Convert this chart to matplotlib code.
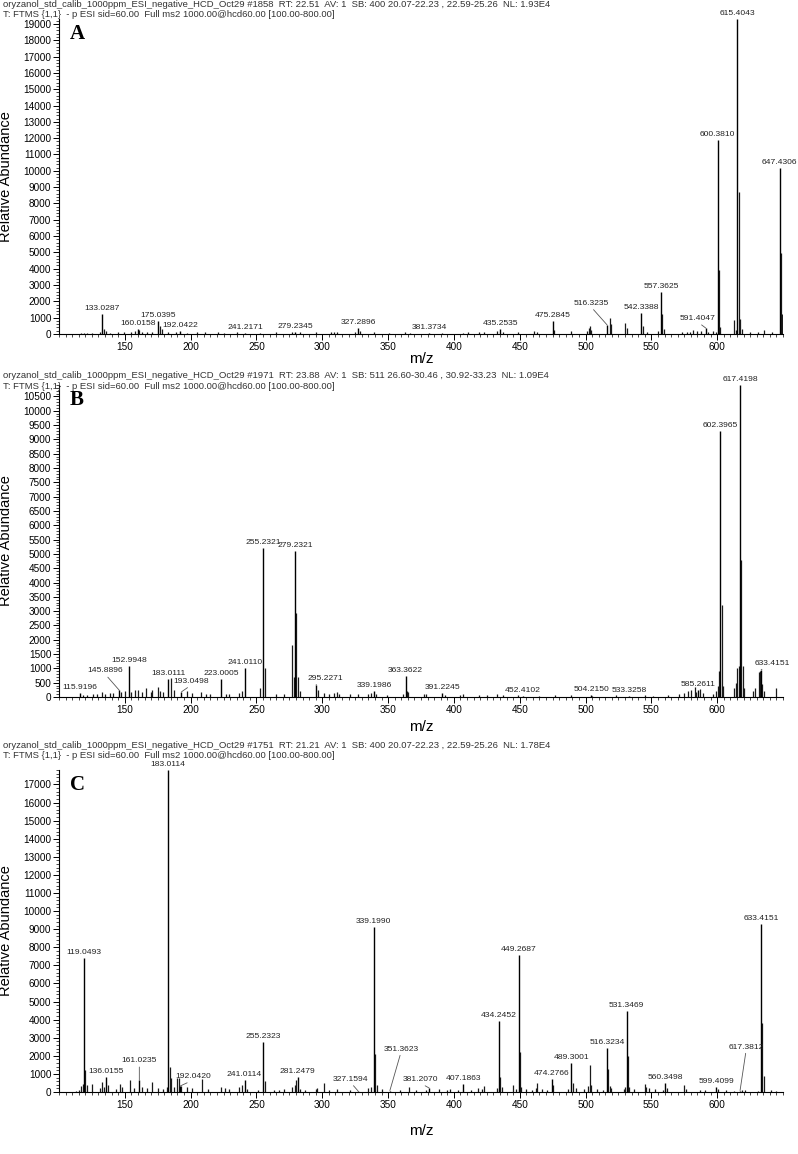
import matplotlib
matplotlib.use("Agg")
import matplotlib.pyplot as plt
from matplotlib.ticker import MultipleLocator

plt.rcParams["font.family"] = ["Liberation Sans", "DejaVu Sans"]

# ---------------- panel A ----------------
A_header = [
    "oryzanol_std_calib_1000ppm_ESI_negative_HCD_Oct29 #1858  RT: 22.51  AV: 1  SB: 400 20.07-22.23 , 22.59-25.26  NL: 1.93E4",
    "T: FTMS {1,1}  - p ESI sid=60.00  Full ms2 1000.00@hcd60.00 [100.00-800.00]",
]
A_nl = 19300
A_label_mz = [133.0287, 160.0158, 175.0395, 192.0422, 241.2171, 279.2345, 327.2896,
              381.3734, 435.2535, 475.2845, 516.3235, 542.3388, 557.3625, 591.4047,
              600.3810, 615.4043, 647.4306]
A_label_int = [1250, 330, 800, 200, 80, 130, 350, 70, 290, 780, 560, 1300, 2580, 360,
               11900, 19300, 10200]
A_minor_mz = [117.0, 119.0, 121.0, 125.0, 131.0, 134.0, 136.0, 139.0, 145.0, 149.0,
              155.0, 158.0, 161.0, 163.0, 167.0, 171.0, 177.0, 178.0, 183.0, 189.0,
              197.0, 205.0, 211.0, 221.0, 225.0, 235.0, 253.0, 265.0, 277.0, 283.0,
              295.0, 307.0, 309.0, 311.0, 325.0, 329.0, 339.0, 351.0, 363.0, 367.0,
              391.0, 407.0, 411.0, 419.0, 423.0, 433.0, 437.0, 449.0, 461.0, 463.0,
              476.3, 489.0, 501.0, 502.3, 503.3, 504.3, 518.3, 519.3, 530.3, 531.3,
              543.3, 547.0, 555.0, 558.4, 559.4, 573.0, 577.0, 579.0, 582.0, 585.0,
              588.0, 593.0, 597.0, 599.0, 601.4, 602.4, 612.8, 614.0, 616.4, 617.4,
              619.0, 625.0, 631.0, 635.4, 642.0, 648.4, 649.4]
A_minor_int = [60, 80, 70, 90, 120, 300, 200, 90, 110, 150,
               120, 200, 250, 120, 150, 130, 520, 300, 130, 150,
               90, 110, 100, 130, 80, 120, 90, 110, 150, 100,
               110, 150, 130, 110, 150, 200, 100, 90, 110, 80,
               70, 90, 120, 150, 130, 200, 140, 100, 170, 120,
               260, 160, 200, 380, 470, 250, 950, 600, 700, 350,
               460, 150, 180, 1200, 300, 110, 150, 120, 230, 160,
               200, 150, 180, 150, 3900, 450, 880, 250, 8700, 900,
               300, 120, 110, 220, 100, 4950, 1220]
A_yticks = (0, 19000, 1000, 200)
A_leaders = {"516.3235": (-16, 18), "591.4047": (-8, 6)}

# ---------------- panel B ----------------
B_header = [
    "oryzanol_std_calib_1000ppm_ESI_negative_HCD_Oct29 #1971  RT: 23.88  AV: 1  SB: 511 26.60-30.46 , 30.92-33.23  NL: 1.09E4",
    "T: FTMS {1,1}  - p ESI sid=60.00  Full ms2 1000.00@hcd60.00 [100.00-800.00]",
]
B_nl = 10900
B_label_mz = [115.9196, 145.8896, 152.9948, 183.0111, 193.0498, 223.0005, 241.0110,
              255.2321, 279.2321, 295.2271, 339.1986, 363.3622, 391.2245, 452.4102,
              504.2150, 533.3258, 585.2611, 602.3965, 617.4198, 633.4151]
B_label_int = [130, 230, 1080, 620, 180, 620, 1020, 5200, 5100, 420, 200, 750, 150, 40,
               60, 40, 230, 9300, 10900, 960]
B_minor_mz = [118, 121, 126, 129, 133, 135, 139, 141, 147, 150, 155, 158, 160, 163, 166,
              170, 171, 175, 177, 179, 185, 187, 197, 201, 208, 212, 215, 227, 229, 237,
              239, 253, 256.2, 265, 271, 277.2, 278.2, 280.2, 281.2, 283, 297, 301, 305,
              309, 311, 313, 321, 327, 335, 337, 341, 349, 361, 364.4, 365, 377, 379, 393,
              405, 407, 419, 425, 433, 437, 449, 465, 477, 489, 505, 523, 545, 551, 563,
              571, 575, 578, 580, 583, 584, 587, 589, 597, 599, 600.4, 601.4, 603.4, 604.4,
              613, 614, 615.4, 616.4, 618.4, 619.4, 620.4, 627, 629, 631.4, 632.4, 634.4,
              635.4, 645]
B_minor_int = [60, 80, 120, 90, 160, 110, 150, 130, 160, 220, 180, 260, 230, 160, 300,
               180, 230, 350, 220, 160, 650, 250, 200, 150, 160, 100, 120, 90, 110, 150,
               200, 300, 1000, 90, 100, 1800, 700, 2950, 700, 200, 250, 130, 110,
               140, 160, 120, 110, 90, 100, 130, 110, 80, 120, 220, 180, 90, 110, 80,
               70, 90, 60, 80, 90, 70, 60, 50, 80, 60, 50, 60, 60, 50, 70,
               90, 150, 200, 250, 350, 180, 280, 150, 120, 200, 400, 900, 3200, 400,
               300, 500, 1000, 1100, 4800, 1100, 300, 200, 300, 870, 920, 450,
               200, 320]
B_yticks = (0, 10500, 500, 100)
B_leaders = {"145.8896": (-14, 16), "193.0498": (10, 7), "295.2271": (9, 3),
             "633.4151": (11, 3)}

# ---------------- panel C ----------------
C_header = [
    "oryzanol_std_calib_1000ppm_ESI_negative_HCD_Oct29 #1751  RT: 21.21  AV: 1  SB: 400 20.07-22.23 , 22.59-25.26  NL: 1.78E4",
    "T: FTMS {1,1}  - p ESI sid=60.00  Full ms2 1000.00@hcd60.00 [100.00-800.00]",
]
C_nl = 17800
C_label_mz = [119.0493, 136.0155, 161.0235, 183.0114, 192.0420, 241.0114, 255.2323,
              281.2479, 327.1594, 339.1990, 351.3623, 381.2070, 407.1863, 434.2452,
              449.2687, 474.2766, 489.3001, 516.3234, 531.3469, 560.3498, 599.4099,
              617.3812, 633.4151]
C_label_int = [7400, 850, 650, 17800, 330, 650, 2750, 850, 60, 9100, 80, 220, 450, 3950,
               7600, 700, 1600, 2450, 4500, 480, 300, 80, 9300]
C_minor_mz = [113, 115, 117, 118, 120, 121, 125, 131, 133, 134, 137, 143, 146, 148, 154,
              157, 163, 167, 171, 175, 179, 182, 184, 185, 187, 190, 191, 193, 197, 201,
              209, 213, 223, 226, 229, 237, 239, 243, 251, 256.2, 263, 267, 271, 277, 279,
              280, 283, 287, 295, 296, 301, 305, 311, 321, 335, 337, 340.2, 341.2, 345,
              359, 366, 371, 379, 389, 395, 397, 403, 413, 418, 421, 423, 433, 435.2,
              436.2, 445, 447, 450.3, 451.3, 455, 459, 462, 463, 467, 471, 475.3, 487,
              490.3, 493, 499, 502, 503.3, 504.3, 509, 513, 517.3, 518.3, 519, 529, 530.3,
              532.3, 533.3, 537, 545, 546, 548, 553, 559, 562, 575, 576, 587, 591, 601,
              607, 613, 619, 621, 631, 634.4, 635.4, 641, 645]
C_minor_int = [80, 120, 350, 450, 1200, 400, 450, 200, 550, 300, 400, 150, 450, 300, 650,
               200, 250, 200, 550, 200, 150, 300, 1400, 750, 300, 750, 800, 350, 300, 200,
               700, 150, 250, 200, 150, 300, 400, 150, 120, 600, 100, 120, 150, 250, 400,
               650, 150, 120, 150, 200, 500, 120, 150, 100, 200, 300, 2100, 400, 150,
               100, 250, 120, 100, 150, 100, 150, 120, 100, 200, 150, 350, 200, 850,
               300, 400, 150, 2200, 300, 150, 120, 200, 500, 150, 120, 400, 150,
               500, 200, 150, 350, 1500, 400, 150, 120, 1250, 350, 200, 150, 250,
               2000, 300, 150, 450, 300, 200, 150, 120, 200, 400, 150, 120, 100, 150,
               100, 80, 100, 120, 80, 3800, 900, 100, 80]
C_yticks = (0, 17000, 1000, 200)
C_leaders = {"161.0235": (0, 16), "192.0420": (13, 6), "327.1594": (-7, 8),
             "351.3623": (11, 38), "381.2070": (-9, 5), "617.3812": (6, 40)}

X_MIN, X_MAX = 100, 650
W, H = 798, 1154


def draw_panel(fig, box, header, header_y, letter, nl, label_mz, label_int,
               minor_mz, minor_int, yticks, leaders, xpad):

    left, top, right, bottom = box

    ax = fig.add_axes([left / W, 1 - bottom / H, (right - left) / W, (bottom - top) / H])

    for i, line in enumerate(header):

        fig.text(3 / W, 1 - (header_y + 10 * i) / H, line,
                 fontsize=6.8, color="#333333", va="center", ha="left")

    ax.vlines(minor_mz, 0, minor_int, color="#1a1a1a", lw=0.9)

    ax.vlines(label_mz, 0, label_int, color="black", lw=1.0)

    for mz, inten in zip(label_mz, label_int):

        txt = "%.4f" % mz

        if txt in leaders:

            dx, dy = leaders[txt]

            ax.annotate(txt, (mz, inten), xytext=(dx, dy), textcoords="offset pixels",
                        ha="center", va="bottom", fontsize=6.1, color="#222222",
                        arrowprops=dict(arrowstyle="-", color="#555555", lw=0.6,
                                        shrinkA=0, shrinkB=0, relpos=(0.5, 0)))

        else:

            ax.annotate(txt, (mz, inten), xytext=(0, 2), textcoords="offset pixels",
                        ha="center", va="bottom", fontsize=6.1, color="#222222")

    ax.set_xlim(X_MIN, X_MAX)
    ax.set_ylim(0, nl)

    y0, y1, ystep, yminor = yticks
    ax.set_yticks(range(y0, y1 + 1, ystep))
    ax.yaxis.set_minor_locator(MultipleLocator(yminor))
    ax.set_xticks(range(150, 601, 50))
    ax.xaxis.set_minor_locator(MultipleLocator(5))

    ax.tick_params(axis="both", which="major", direction="out", length=4,
                   width=0.7, labelsize=7.2, pad=1.5)
    ax.tick_params(axis="both", which="minor", direction="out", length=2, width=0.5)

    for side in ["top", "right"]:
        ax.spines[side].set_visible(False)
    for side in ["left", "bottom"]:
        ax.spines[side].set_linewidth(0.8)

    ax.set_xlabel("m/z", fontsize=11, labelpad=xpad)
    ax.set_ylabel("Relative Abundance", fontsize=10.5)
    ax.yaxis.set_label_coords(-0.063, 0.5)

    ax.text(0.015, 0.985, letter, transform=ax.transAxes, ha="left", va="top",
            fontsize=15, fontweight="bold", family="Liberation Serif")

    return ax


fig = plt.figure(figsize=(W / 100, H / 100), dpi=100)

draw_panel(fig, (59, 19, 783, 334), A_header, 4.5, "A", A_nl, A_label_mz, A_label_int,
           A_minor_mz, A_minor_int, A_yticks, A_leaders, 0)

draw_panel(fig, (59, 385, 783, 697), B_header, 376, "B", B_nl, B_label_mz, B_label_int,
           B_minor_mz, B_minor_int, B_yticks, B_leaders, 4)

draw_panel(fig, (59, 770, 783, 1092), C_header, 745, "C", C_nl, C_label_mz, C_label_int,
           C_minor_mz, C_minor_int, C_yticks, C_leaders, 10)

plt.savefig("out.png", dpi=100)

plt.close()
